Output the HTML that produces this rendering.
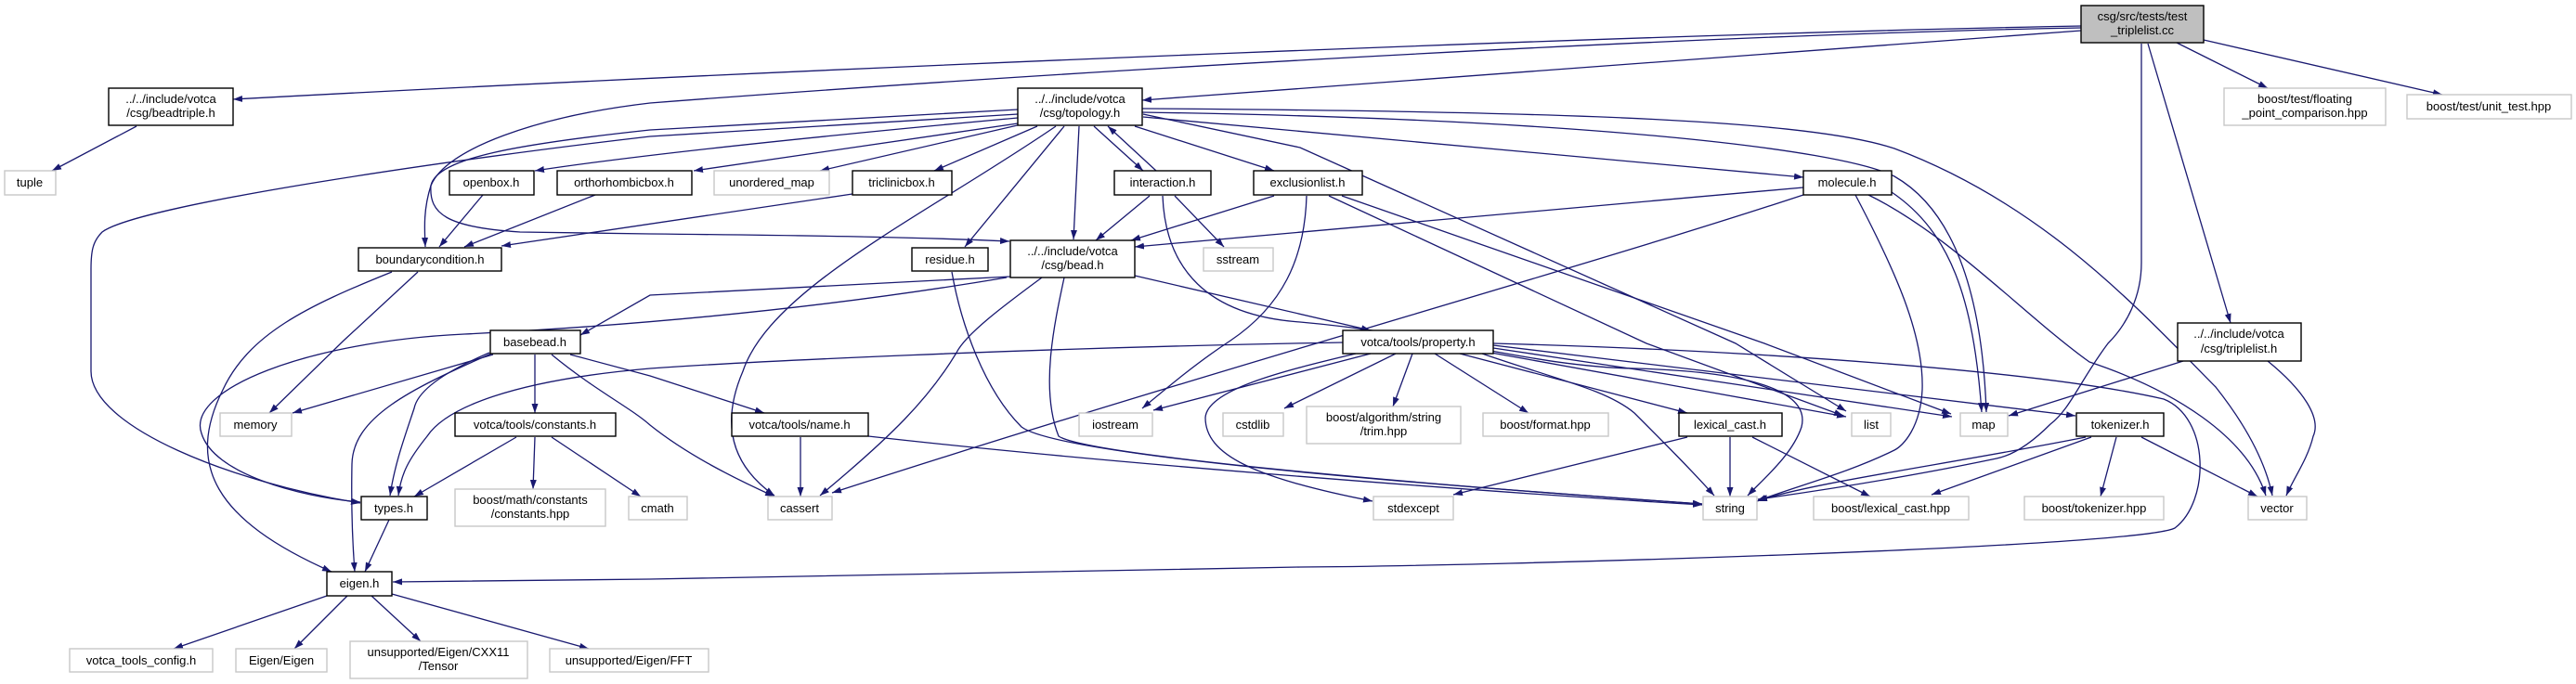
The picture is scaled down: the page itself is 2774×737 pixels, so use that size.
<!DOCTYPE html>
<html><head><meta charset="utf-8"><style>
html,body{margin:0;padding:0;background:#fff;}
svg{display:block;}
text{font-family:"Liberation Sans",sans-serif;font-size:13px;fill:#000;text-anchor:middle;}
.e{fill:none;stroke:#191970;stroke-width:1.3;marker-end:url(#a);}
.n{fill:#fff;stroke:#000;stroke-width:1.4;}
.g{fill:#fff;stroke:#c8c8c8;stroke-width:1.4;}
</style></head><body>
<svg width="2774" height="737" viewBox="0 0 2774 737" xmlns="http://www.w3.org/2000/svg">
<defs><marker id="a" markerUnits="userSpaceOnUse" markerWidth="11" markerHeight="8" refX="10" refY="3.5" orient="auto"><path d="M0,0 L10,3.5 L0,7 z" fill="#191970"/></marker></defs>

<!-- edges -->
<path class="e" d="M2241,28 C1800,36 900,72 251,107"/>
<path class="e" d="M2241,30 C1800,38 1100,80 700,111 C580,125 480,160 464,200 C456,225 457,245 458,266"/>
<path class="e" d="M2241,33 L1230,108"/>
<path class="e" d="M1096,118 C900,128 780,135 700,140 C560,155 470,170 464,200 C462,230 480,245 560,250 L700,252 C900,254 1000,256 1087,260"/>
<path class="e" d="M1096,123 C900,135 780,142 700,147 C500,170 150,220 110,250 C100,260 98,270 98,290 L98,400 C98,460 250,520 388,542"/>
<path class="e" d="M1096,127 C900,145 700,165 576,184"/>
<path class="e" d="M1096,133 L747,184"/>
<path class="e" d="M1100,134 L883,184"/>
<path class="e" d="M1117,136 L1006,184"/>
<path class="e" d="M1137,136 C1000,230 830,310 800,400 C770,470 800,510 834,534"/>
<path class="e" d="M1146,136 L1039,266"/>
<path class="e" d="M1162,136 L1156,258"/>
<path class="e" d="M1178,136 L1231,184"/>
<path class="e" d="M1245,184 L1193,136"/>
<path class="e" d="M1222,136 L1372,184"/>
<path class="e" d="M1231,126 L1942,191"/>
<path class="e" d="M1231,123 L1400,159 L1869,370 L1988,443"/>
<path class="e" d="M1230,117 C1700,120 1950,130 2040,160 C2200,220 2300,330 2386,417 C2420,460 2440,500 2447,534"/>
<path class="e" d="M1230,121 C1700,128 1980,160 2040,190 C2110,230 2135,330 2139,444"/>
<path class="e" d="M918,209 L540,265"/>
<path class="e" d="M520,210 L473,266"/>
<path class="e" d="M641,210 L500,266"/>
<path class="e" d="M450,293 L370,367 L290,445"/>
<path class="e" d="M422,293 C330,330 268,360 240,420 C200,500 230,560 357,616"/>
<path class="e" d="M147,136 L56,184"/>
<path class="e" d="M1088,298 L700,318 L625,361"/>
<path class="e" d="M1084,299 C900,330 700,350 500,360 C330,368 200,420 217,467 C230,510 320,535 388,541"/>
<path class="e" d="M1122,299 C1080,330 1040,360 1030,380 C1000,430 960,470 883,534"/>
<path class="e" d="M1146,299 C1135,350 1120,420 1140,470 C1170,490 1500,520 1833,543"/>
<path class="e" d="M1025,293 C1035,350 1060,420 1100,460 C1140,490 1500,520 1833,543"/>
<path class="e" d="M1222,297 L1476,356"/>
<path class="e" d="M1238,211 L1180,259"/>
<path class="e" d="M1265,211 L1318,266"/>
<path class="e" d="M1252,211 C1255,290 1300,340 1400,347 C1550,360 1650,395 1760,397 C1880,400 1950,420 1940,460 C1930,490 1900,515 1882,534"/>
<path class="e" d="M1372,211 L1218,259"/>
<path class="e" d="M1407,211 C1405,280 1380,330 1325,367 C1290,390 1260,415 1230,440"/>
<path class="e" d="M1431,211 L1773,370 L1985,448"/>
<path class="e" d="M1445,211 L1900,370 L2101,446"/>
<path class="e" d="M1942,202 L1222,266"/>
<path class="e" d="M1942,210 C1700,290 1300,400 896,531"/>
<path class="e" d="M1998,210 C2040,290 2072,360 2070,420 C2068,460 2050,480 2040,485 C1990,510 1930,525 1892,540"/>
<path class="e" d="M2037,207 C2100,250 2125,320 2134,444"/>
<path class="e" d="M2012,210 C2100,253 2180,340 2250,390 C2340,420 2420,470 2440,534"/>
<path class="e" d="M1446,369 C1100,375 800,390 700,397 C550,410 480,440 460,470 C440,495 432,510 429,534"/>
<path class="e" d="M1476,381 L1242,442"/>
<path class="e" d="M1503,381 L1383,440"/>
<path class="e" d="M1460,381 C1380,400 1300,420 1298,450 C1298,490 1350,515 1478,540"/>
<path class="e" d="M1521,381 L1500,438"/>
<path class="e" d="M1545,381 L1646,445"/>
<path class="e" d="M1572,381 L1817,445"/>
<path class="e" d="M1596,381 C1680,410 1730,420 1760,445 C1790,475 1820,505 1846,534"/>
<path class="e" d="M1600,379 L1988,449"/>
<path class="e" d="M1608,375 L2102,449"/>
<path class="e" d="M1608,372 L2235,448"/>
<path class="e" d="M1608,370 C1900,378 2200,400 2330,430 C2380,450 2380,540 2342,569 C2300,590 1600,610 1400,611 L700,624 L423,627"/>
<path class="e" d="M1817,471 L1565,533"/>
<path class="e" d="M1863,471 L1863,535"/>
<path class="e" d="M1887,471 L2014,535"/>
<path class="e" d="M2246,471 C2100,500 1950,520 1892,540"/>
<path class="e" d="M2252,471 L2080,533"/>
<path class="e" d="M2279,471 L2262,535"/>
<path class="e" d="M2306,471 L2431,535"/>
<path class="e" d="M2351,389 L2163,448"/>
<path class="e" d="M2442,389 C2480,420 2500,450 2491,470 C2485,495 2470,515 2462,534"/>
<path class="e" d="M2313,47 L2402,348"/>
<path class="e" d="M2306,47 L2306,283 C2306,320 2290,350 2270,370 C2240,410 2230,440 2208,457 C2190,475 2170,490 2150,494 C2050,515 1950,530 1893,538"/>
<path class="e" d="M2344,46 L2442,95"/>
<path class="e" d="M2373,43 L2630,102"/>
<path class="e" d="M531,382 L315,445"/>
<path class="e" d="M527,380 C480,400 450,420 446,440 C436,470 425,500 420,534"/>
<path class="e" d="M529,381 C440,420 380,450 379,500 C378,550 380,590 382,616"/>
<path class="e" d="M576,382 L576,445"/>
<path class="e" d="M594,382 C640,420 680,440 700,458 C740,490 790,515 834,535"/>
<path class="e" d="M614,382 L700,405 L823,445"/>
<path class="e" d="M556,471 L446,535"/>
<path class="e" d="M576,471 L574,527"/>
<path class="e" d="M594,471 L690,535"/>
<path class="e" d="M419,560 L393,616"/>
<path class="e" d="M352,642 L187,699"/>
<path class="e" d="M374,642 L317,699"/>
<path class="e" d="M400,642 L453,691"/>
<path class="e" d="M422,640 L634,699"/>
<path class="e" d="M862,471 L862,535"/>
<path class="e" d="M935,470 C1200,500 1600,530 1833,544"/>

<!-- nodes -->
<rect x="2241" y="6" width="132" height="40" fill="#bfbfbf" stroke="#000" stroke-width="1.4"/>
<text x="2307" y="22">csg/src/tests/test</text><text x="2307" y="37">_triplelist.cc</text>
<rect class="n" x="117" y="95" width="134" height="40"/><text x="184" y="111">../../include/votca</text><text x="184" y="126">/csg/beadtriple.h</text>
<rect class="g" x="5" y="184" width="55" height="26"/><text x="32" y="201">tuple</text>
<rect class="n" x="1096" y="95" width="134" height="40"/><text x="1163" y="111">../../include/votca</text><text x="1163" y="126">/csg/topology.h</text>
<rect class="g" x="2395" y="95" width="174" height="40"/><text x="2482" y="111">boost/test/floating</text><text x="2482" y="126">_point_comparison.hpp</text>
<rect class="g" x="2592" y="102" width="177" height="26"/><text x="2680" y="119">boost/test/unit_test.hpp</text>
<rect class="n" x="484" y="184" width="91" height="26"/><text x="529" y="201">openbox.h</text>
<rect class="n" x="600" y="184" width="145" height="26"/><text x="672" y="201">orthorhombicbox.h</text>
<rect class="g" x="769" y="184" width="124" height="26"/><text x="831" y="201">unordered_map</text>
<rect class="n" x="918" y="184" width="107" height="26"/><text x="971" y="201">triclinicbox.h</text>
<rect class="n" x="1200" y="184" width="104" height="26"/><text x="1252" y="201">interaction.h</text>
<rect class="n" x="1350" y="184" width="117" height="26"/><text x="1408" y="201">exclusionlist.h</text>
<rect class="n" x="1942" y="184" width="95" height="26"/><text x="1989" y="201">molecule.h</text>
<rect class="n" x="386" y="267" width="154" height="25"/><text x="463" y="284">boundarycondition.h</text>
<rect class="n" x="982" y="267" width="82" height="25"/><text x="1023" y="284">residue.h</text>
<rect class="n" x="1088" y="259" width="134" height="40"/><text x="1155" y="275">../../include/votca</text><text x="1155" y="290">/csg/bead.h</text>
<rect class="g" x="1296" y="267" width="75" height="25"/><text x="1333" y="284">sstream</text>
<rect class="n" x="528" y="356" width="97" height="25"/><text x="576" y="373">basebead.h</text>
<rect class="n" x="1446" y="356" width="162" height="25"/><text x="1527" y="373">votca/tools/property.h</text>
<rect class="n" x="2345" y="348" width="133" height="41"/><text x="2411" y="364">../../include/votca</text><text x="2411" y="380">/csg/triplelist.h</text>
<rect class="g" x="237" y="445" width="77" height="25"/><text x="275" y="462">memory</text>
<rect class="n" x="490" y="445" width="173" height="25"/><text x="576" y="462">votca/tools/constants.h</text>
<rect class="n" x="788" y="445" width="147" height="25"/><text x="861" y="462">votca/tools/name.h</text>
<rect class="g" x="1162" y="445" width="79" height="25"/><text x="1201" y="462">iostream</text>
<rect class="g" x="1317" y="445" width="65" height="25"/><text x="1349" y="462">cstdlib</text>
<rect class="g" x="1407" y="438" width="166" height="40"/><text x="1490" y="454">boost/algorithm/string</text><text x="1490" y="469">/trim.hpp</text>
<rect class="g" x="1597" y="445" width="135" height="25"/><text x="1664" y="462">boost/format.hpp</text>
<rect class="n" x="1808" y="445" width="111" height="25"/><text x="1863" y="462">lexical_cast.h</text>
<rect class="g" x="1994" y="445" width="42" height="25"/><text x="2015" y="462">list</text>
<rect class="g" x="2111" y="445" width="51" height="25"/><text x="2136" y="462">map</text>
<rect class="n" x="2236" y="445" width="94" height="25"/><text x="2283" y="462">tokenizer.h</text>
<rect class="n" x="389" y="535" width="71" height="25"/><text x="424" y="552">types.h</text>
<rect class="g" x="490" y="527" width="162" height="40"/><text x="571" y="543">boost/math/constants</text><text x="571" y="558">/constants.hpp</text>
<rect class="g" x="677" y="535" width="63" height="25"/><text x="708" y="552">cmath</text>
<rect class="g" x="827" y="535" width="69" height="25"/><text x="861" y="552">cassert</text>
<rect class="g" x="1479" y="535" width="86" height="25"/><text x="1522" y="552">stdexcept</text>
<rect class="g" x="1834" y="535" width="58" height="25"/><text x="1863" y="552">string</text>
<rect class="g" x="1953" y="535" width="167" height="25"/><text x="2036" y="552">boost/lexical_cast.hpp</text>
<rect class="g" x="2180" y="535" width="150" height="25"/><text x="2255" y="552">boost/tokenizer.hpp</text>
<rect class="g" x="2421" y="535" width="63" height="25"/><text x="2452" y="552">vector</text>
<rect class="n" x="352" y="616" width="70" height="26"/><text x="387" y="633">eigen.h</text>
<rect class="g" x="75" y="699" width="154" height="25"/><text x="152" y="716">votca_tools_config.h</text>
<rect class="g" x="254" y="699" width="98" height="25"/><text x="303" y="716">Eigen/Eigen</text>
<rect class="g" x="377" y="691" width="191" height="40"/><text x="472" y="707">unsupported/Eigen/CXX11</text><text x="472" y="722">/Tensor</text>
<rect class="g" x="592" y="699" width="171" height="25"/><text x="677" y="716">unsupported/Eigen/FFT</text>
</svg>
</body></html>
